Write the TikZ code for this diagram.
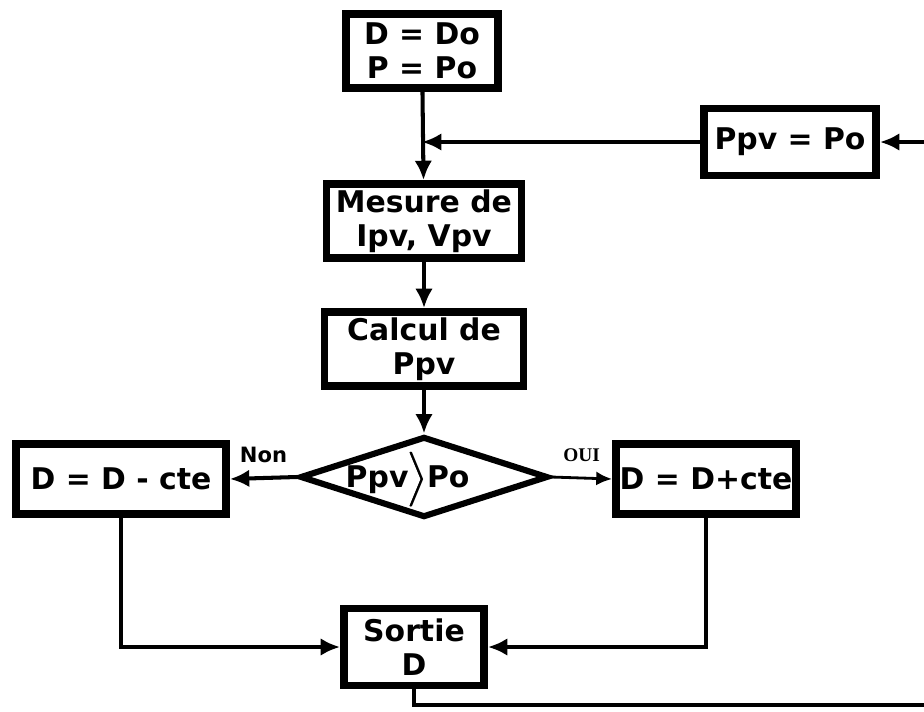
\documentclass[tikz,border=0pt]{standalone}
\usepackage{amsmath}
\usepackage{fontspec}
\setmainfont{DejaVu Sans}
\newfontfamily\ouifont{Liberation Serif}
\usetikzlibrary{shapes.geometric,arrows.meta}

\begin{document}
\begin{tikzpicture}[x=0.02cm,y=-0.02cm,
    bloc/.style={draw, line width=4.5pt, fill=white, align=center, inner sep=0pt,
      font=\fontsize{17}{19.5}\selectfont\bfseries},
    test/.style={draw, diamond, aspect=3, line width=3.5pt, fill=white, inner sep=0pt,
      minimum width=4.96cm, minimum height=1.62cm,
      font=\fontsize{17}{19.5}\selectfont\bfseries},
    fleche/.style={line width=2.3pt, -{Latex[length=11pt,width=10pt]}}]
  \useasboundingbox (0,0) rectangle (924,711);

  % blocs de l'organigramme
  \node[bloc, minimum width=3.04cm, minimum height=1.48cm] (init) at (422,51) {D = Do\\P = Po};
  \node[bloc, minimum width=3.44cm, minimum height=1.34cm] (ppv) at (790,142) {Ppv = Po};
  \node[bloc, minimum width=3.9cm, minimum height=1.48cm] (mesure) at (424,221) {Mesure de\\Ipv, Vpv};
  \node[bloc, minimum width=3.98cm, minimum height=1.48cm] (calcul) at (424,349) {Calcul de\\Ppv};
  \node[test] (compar) at (424,477)
    {\smash{\makebox[0pt]{\raisebox{-6pt}{\hspace*{-1.1em}Ppv$\pmb{\Big\rangle}$Po}}}};
  \node[bloc, minimum width=4.2cm, minimum height=1.4cm] (moins) at (121,479) {D = D - cte};
  \node[bloc, minimum width=3.6cm, minimum height=1.4cm] (plus) at (706,479) {D = D+cte};
  \node[bloc, minimum width=2.8cm, minimum height=1.54cm] (sortie) at (414,647) {Sortie\\D};

  \coordinate (jonction) at (init.south |- ppv.west);
  \coordinate (coinbas) at (940,705);

  % liaisons
  \draw[fleche] (init) -- (mesure);
  \draw[fleche] (ppv.west) -- (jonction);
  \draw[fleche] (mesure) -- (calcul);
  \draw[fleche] (calcul) -- (compar);
  \draw[fleche] (compar.west) -- (moins.east)
    node[midway, above=4pt, font=\fontsize{12}{14}\selectfont\bfseries] {Non};
  \draw[line width=1.6pt, -{Latex[length=9pt,width=8pt]}] (compar.east) -- (plus.west)
    node[midway, above=5pt, font=\ouifont\fontsize{11}{13}\selectfont\bfseries] {OUI};
  \draw[fleche] (moins.south) |- (sortie.west);
  \draw[fleche] (plus.south) |- (sortie.east);
  \draw[fleche] (sortie.south) |- (coinbas) |- (ppv.east);
\end{tikzpicture}
\end{document}
